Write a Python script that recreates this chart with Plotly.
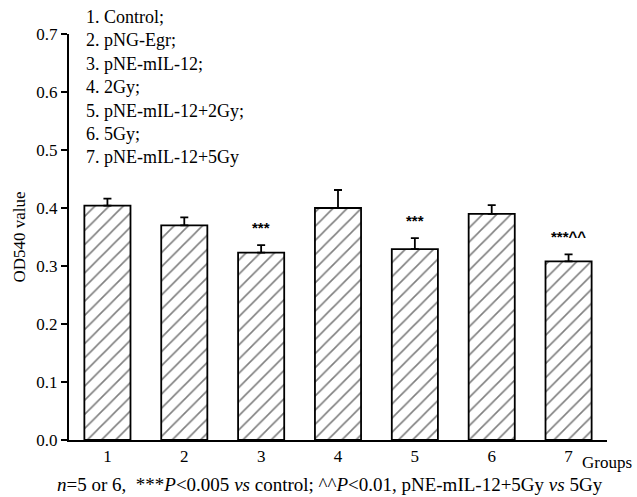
import plotly.graph_objects as go

groups = [1, 2, 3, 4, 5, 6, 7]
tick_labels = ["1", "2", "3", "4", "5", "6", "7"]
means = [0.404, 0.370, 0.323, 0.400, 0.329, 0.390, 0.308]
errors = [0.012, 0.014, 0.013, 0.031, 0.019, 0.015, 0.012]
sig_labels = ["", "", "***", "", "***", "", "***^^"]
legend_lines = ["1. Control;", "2. pNG-Egr;", "3. pNE-mIL-12;", "4. 2Gy;",
                "5. pNE-mIL-12+2Gy;", "6. 5Gy;", "7. pNE-mIL-12+5Gy"]

serif = "Liberation Serif"

fig = go.Figure()
fig.add_trace(go.Bar(
    x=groups, y=means, width=0.6,
    marker=dict(color="white", line=dict(color="black", width=1.8),
                pattern=dict(shape="/", fgcolor="black", bgcolor="white",
                             size=10, solidity=0.16, fillmode="overlay")),
    error_y=dict(type="data", symmetric=False, array=errors,
                 arrayminus=[0] * len(errors), color="black",
                 thickness=1.8, width=4),
    showlegend=False,
))

for g, m, e, s in zip(groups, means, errors, sig_labels):
    if s:
        fig.add_annotation(x=g, y=m + e, text="<b>" + s + "</b>", showarrow=False,
                           yanchor="middle", yshift=18,
                           font=dict(family="Liberation Sans", size=15, color="black"))

fig.add_annotation(xref="paper", yref="paper", x=(84 - 69) / 538,
                   y=(440 - 87) / 406, text="<br>".join(legend_lines),
                   showarrow=False, xanchor="left", yanchor="middle", align="left",
                   font=dict(family=serif, size=18, color="black"))

fig.add_annotation(xref="paper", yref="paper", x=(634 - 69) / 538,
                   y=(440 - 462) / 406, text="Groups", showarrow=False,
                   xanchor="right", yanchor="middle",
                   font=dict(family=serif, size=17, color="black"))

fig.add_annotation(xref="paper", yref="paper", x=(330 - 69) / 538,
                   y=(440 - 485) / 406,
                   text="<i>n</i>=5 or 6,  ***<i>P</i>&lt;0.005 <i>vs</i> control; ^^<i>P</i>&lt;0.01, pNE-mIL-12+5Gy <i>vs</i> 5Gy",
                   showarrow=False, xanchor="center", yanchor="middle",
                   font=dict(family=serif, size=19, color="black"))

fig.update_layout(
    width=637, height=497,
    margin=dict(l=69, r=30, t=34, b=57),
    paper_bgcolor="white", plot_bgcolor="white",
    bargap=0.4,
    xaxis=dict(range=[0.5, 7.5], tickmode="array", tickvals=groups,
               ticktext=tick_labels, showline=True, linecolor="black",
               linewidth=2, ticks="", showgrid=False, zeroline=False,
               tickfont=dict(family=serif, size=17, color="black")),
    yaxis=dict(range=[0, 0.7], tickmode="array",
               tickvals=[0, 0.1, 0.2, 0.3, 0.4, 0.5, 0.6, 0.7],
               ticktext=["0.0", "0.1", "0.2", "0.3", "0.4", "0.5", "0.6", "0.7"],
               showline=True, linecolor="black", linewidth=2,
               ticks="outside", ticklen=6, tickwidth=2, tickcolor="black",
               showgrid=False, zeroline=False,
               tickfont=dict(family=serif, size=17, color="black"),
               title=dict(text="OD540 value", standoff=6,
                          font=dict(family=serif, size=17, color="black"))),
)

fig.write_html("out.html")
